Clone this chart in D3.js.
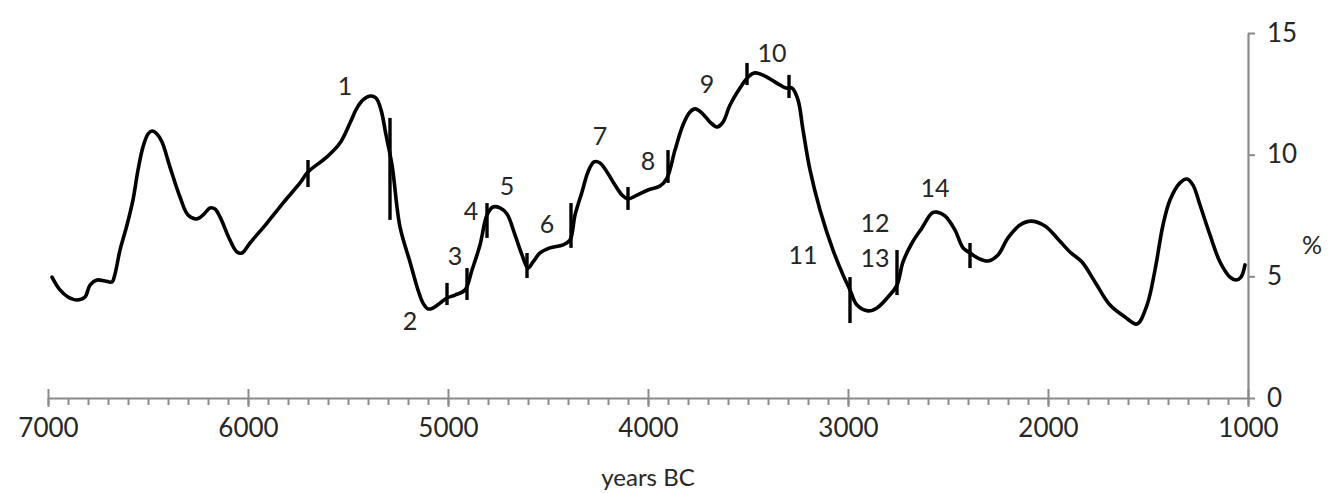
<!DOCTYPE html>
<html>
<head>
<meta charset="utf-8">
<script src="https://cdn.jsdelivr.net/npm/d3@7"></script>
<style>
  html, body { margin: 0; padding: 0; background: #fff; }
  svg { display: block; }
  text { font-family: Lato, "Open Sans", sans-serif; fill: #262626; }
</style>
</head>
<body>
<svg id="chart" width="1334" height="493"></svg>
<script>
// ---- data (years BC, percent) ----
const years = [6980,6940,6900,6855,6815,6790,6755,6715,6680,6665,6640,6605,6575,6550,6525,6500,6480,6455,6430,6390,6340,6300,6255,6220,6190,6165,6140,6090,6055,6030,5990,5905,5825,5740,5700,5605,5540,5490,5455,5425,5390,5360,5335,5310,5280,5240,5190,5150,5125,5100,5075,5040,5005,4965,4915,4880,4840,4805,4775,4740,4705,4665,4630,4600,4575,4540,4490,4425,4390,4365,4330,4300,4270,4240,4205,4165,4130,4100,4055,4000,3940,3905,3865,3825,3790,3765,3730,3690,3655,3625,3590,3540,3500,3465,3415,3350,3310,3280,3250,3225,3190,3140,3075,3025,2990,2955,2900,2855,2800,2755,2725,2680,2630,2580,2555,2515,2465,2425,2390,2350,2300,2250,2200,2140,2085,2015,1955,1890,1830,1765,1690,1615,1555,1505,1465,1425,1390,1340,1305,1275,1240,1190,1140,1090,1060,1035,1015];
const values = [4.97,4.44,4.15,4.03,4.15,4.64,4.85,4.81,4.77,5.10,6.08,7.11,8.14,9.37,10.32,10.85,10.97,10.85,10.52,9.49,8.26,7.52,7.36,7.56,7.81,7.77,7.44,6.49,6.00,5.96,6.37,7.19,8.01,8.84,9.29,9.91,10.48,11.30,11.92,12.25,12.41,12.33,11.84,10.81,9.58,7.03,5.59,4.44,3.90,3.66,3.70,3.90,4.11,4.23,4.44,5.26,6.29,7.52,7.85,7.81,7.56,6.70,5.88,5.34,5.59,5.96,6.17,6.29,6.49,7.52,8.47,9.29,9.70,9.66,9.29,8.75,8.34,8.18,8.34,8.55,8.71,9.04,10.19,11.22,11.75,11.88,11.71,11.34,11.14,11.34,12.04,12.74,13.19,13.36,13.23,12.91,12.74,12.74,12.25,11.02,9.37,7.73,6.08,5.06,4.44,3.82,3.58,3.70,4.15,4.64,5.59,6.37,6.99,7.60,7.64,7.48,6.90,6.17,5.96,5.75,5.63,5.88,6.58,7.11,7.27,7.07,6.58,6.00,5.59,4.77,3.82,3.33,3.04,3.82,5.26,7.11,8.14,8.84,9.00,8.75,7.93,6.70,5.59,4.97,4.85,4.97,5.47];

// vertical phase markers on the curve
const markerYears = [5700,5290,5005,4905,4805,4605,4385,4100,3900,3505,3295,2990,2755,2390];
const markerLow   = [8.67,7.32,3.82,4.03,6.58,4.93,6.17,7.73,8.84,12.86,12.33,3.08,4.23,5.34];
const markerHigh  = [9.78,11.51,4.73,5.34,8.01,5.96,8.01,8.67,10.19,13.77,13.28,4.97,6.08,6.37];

// numbered labels
const labelText  = ["1","2","3","4","5","6","7","8","9","10","11","12","13","14"];
const labelYears = [5515,5190,4965,4885,4705,4505,4240,4000,3705,3380,3225,2865,2865,2565];
const labelVals  = [12.86,3.20,5.88,7.73,8.75,7.19,10.82,9.78,12.95,14.22,5.92,7.23,5.80,8.67];

// axes
const xMajorTicks = [7000,6000,5000,4000,3000,2000,1000];
const xMinorTicks = d3.range(7000, 999, -100);
const yTicks = [0,5,10,15];
const xTitle = "years BC";
const yTitle = "%";

// ---- drawing ----
const svg = d3.select("#chart");
const x = d3.scaleLinear().domain([7000, 1000]).range([48, 1248]);
const y = d3.scaleLinear().domain([0, 15]).range([398, 33]);
const axisColor = "#8a8a8a";

// x minor ticks
const gMinor = svg.append("g").attr("transform", `translate(0,${y(0)})`)
  .call(d3.axisBottom(x).tickValues(xMinorTicks).tickSize(7).tickSizeOuter(0).tickFormat(""));
gMinor.select(".domain").attr("stroke", axisColor).attr("stroke-width", 2.2);
gMinor.selectAll(".tick line").attr("stroke", axisColor).attr("stroke-width", 2);

// x major ticks + labels
const gX = svg.append("g").attr("transform", `translate(0,${y(0)})`)
  .call(d3.axisBottom(x).tickValues(xMajorTicks).tickSize(9).tickSizeOuter(0).tickPadding(12).tickFormat(d3.format("d")));
gX.select(".domain").remove();
gX.selectAll(".tick line").attr("y1", -9).attr("stroke", axisColor).attr("stroke-width", 2);
gX.selectAll(".tick text").attr("font-size", 26).attr("font-family", "Lato, sans-serif").style("fill", "#262626");

// y axis on right
const gY = svg.append("g").attr("transform", `translate(${x(1000)},0)`)
  .call(d3.axisRight(y).tickValues(yTicks).tickSize(7).tickSizeOuter(0).tickPadding(12));
gY.select(".domain").attr("stroke", axisColor).attr("stroke-width", 2.2);
gY.selectAll(".tick line").attr("stroke", axisColor).attr("stroke-width", 2);
gY.selectAll(".tick text").attr("font-size", 26).attr("font-family", "Lato, sans-serif").style("fill", "#262626");

// titles
svg.append("text").attr("x", x(4000)).attr("y", 476).attr("text-anchor", "middle")
  .attr("dominant-baseline", "central").attr("font-size", 24).text(xTitle);
svg.append("text").attr("x", 1312).attr("y", 244).attr("text-anchor", "middle")
  .attr("dominant-baseline", "central").attr("font-size", 25).text(yTitle);

// curve
const data = years.map((d, i) => ({ yr: d, v: values[i] }));
const line = d3.line().x(d => x(d.yr)).y(d => y(d.v)).curve(d3.curveCatmullRom.alpha(0.5));
svg.append("path").datum(data).attr("d", line)
  .attr("fill", "none").attr("stroke", "#000").attr("stroke-width", 3.6)
  .attr("stroke-linejoin", "round").attr("stroke-linecap", "round");

// markers
svg.append("g").selectAll("line").data(markerYears).join("line")
  .attr("x1", d => x(d)).attr("x2", d => x(d))
  .attr("y1", (d, i) => y(markerHigh[i])).attr("y2", (d, i) => y(markerLow[i]))
  .attr("stroke", "#000").attr("stroke-width", 3.4);

// numbered labels
svg.append("g").selectAll("text").data(labelText).join("text")
  .attr("x", (d, i) => x(labelYears[i])).attr("y", (d, i) => y(labelVals[i]))
  .attr("text-anchor", "middle").attr("dominant-baseline", "central")
  .attr("font-size", 25).text(d => d);
</script>
</body>
</html>
